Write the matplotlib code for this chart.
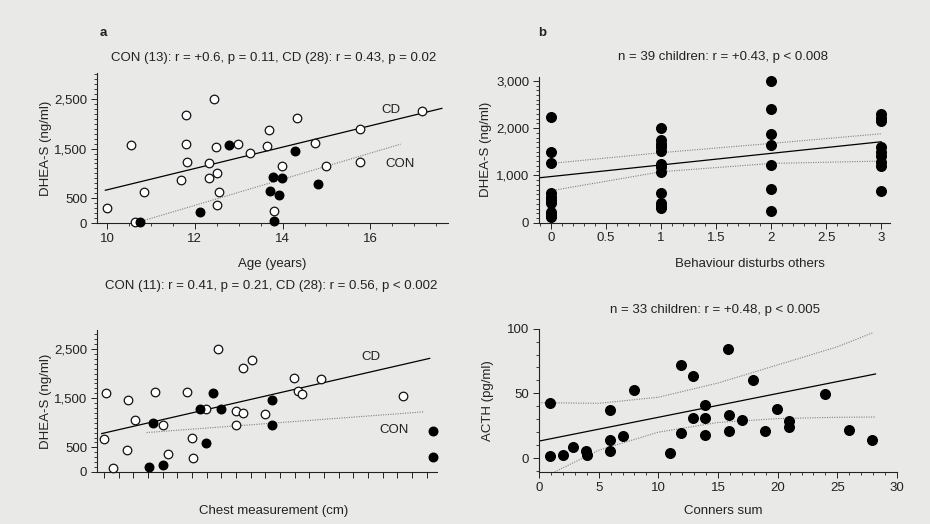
"""
Four scatter panels: hormone levels vs age, behaviour, chest and Conners sum
"""
import matplotlib
matplotlib.use("Agg")
import matplotlib.pyplot as plt
from matplotlib.ticker import FixedLocator, MultipleLocator
import numpy as np

plt.rcParams['font.family'] = ['Liberation Sans', 'DejaVu Sans']

"""
Panel a: age (years) vs DHEA-S, CD open circles, CON filled
"""
age_cd = [10.0, 10.54, 10.63, 10.83, 11.69, 11.79, 11.79, 11.82, 12.32, 12.33, 12.43, 12.48, 12.50,
          12.50, 12.54, 12.98, 13.25, 13.65, 13.68, 13.80, 13.98, 14.32, 14.74, 15.0, 15.77, 15.77, 17.18]
dhea_age_cd = [310, 1563, 20, 627, 876, 2177, 1590, 1233, 917, 1200, 2507, 1523, 1011,
               357, 627, 1597, 1402, 1550, 1867, 243, 1159, 2109, 1604, 1152, 1887, 1233, 2264]
age_con = [10.75, 12.11, 12.77, 13.71, 13.78, 13.92, 13.98, 13.80, 14.29, 14.8]
dhea_age_con = [27, 216, 1563, 647, 930, 559, 917, 40, 1456, 782]
fit_age_cd_x = [9.96, 17.63]
fit_age_cd_y = [660, 2311]
fit_age_con_x = [10.75, 16.69]
fit_age_con_y = [27, 1590]

"""
Panel b: behaviour disturbs others score vs DHEA-S
"""
behav = [0] * 10 + [1] * 12 + [2] * 7 + [3] * 9
dhea_behav = [2240, 1500, 1270, 620, 540, 470, 420, 230, 170, 130,
              2000, 1750, 1660, 1590, 1520, 1250, 1180, 1080, 630, 410, 350, 320,
              3000, 2400, 1880, 1640, 1230, 720, 240,
              2300, 2220, 2150, 1600, 1500, 1400, 1290, 1200, 680]
fit_behav_x = [-0.1, 3.0]
fit_behav_y = [951, 1711]
ci_behav_x = [0, 1, 2, 3]
ci_behav_upper = [1253, 1480, 1676, 1880]
ci_behav_lower = [676, 1077, 1253, 1303]

"""
Panel c: chest measurement (cm) vs DHEA-S (axis printed without numbers)
"""
chest_cd = [60.0, 60.14, 60.59, 61.55, 61.6, 62.1, 63.5, 64.05, 64.34, 65.64, 66.0, 66.05, 66.93,
            67.77, 69.0, 69.0, 69.5, 69.5, 70.07, 71.0, 72.95, 73.25, 73.48, 74.77, 80.36]
dhea_chest_cd = [679, 1610, 82, 442, 1460, 1066, 1630, 965, 374, 1630, 693, 285, 1291,
                 2500, 951, 1243, 1209, 2119, 2269, 1189, 1916, 1644, 1576, 1882, 1542]
chest_con = [63.07, 63.32, 64.05, 66.55, 66.95, 67.45, 67.95, 71.43, 71.43, 82.45, 82.45]
dhea_chest_con = [109, 999, 136, 1284, 598, 1610, 1291, 1467, 965, 829, 299]
fit_chest_cd_x = [59.84, 82.2]
fit_chest_cd_y = [781, 2310]
fit_chest_con_x = [62.9, 81.8]
fit_chest_con_y = [802, 1223]

"""
Panel d: Conners sum vs ACTH
"""
conners = [0.92, 0.92, 1.98, 2.87, 3.94, 3.99, 5.94, 5.94, 5.94, 7.0, 7.95, 10.97, 11.86, 11.86,
           12.92, 12.92, 13.93, 13.93, 13.93, 15.85, 15.94, 15.94, 16.97, 17.95, 18.92, 19.95,
           20.96, 20.96, 23.95, 25.98, 27.94]
acth = [1.5, 42.3, 2, 8.5, 5.2, 2, 36.9, 13.7, 5.2, 16.8, 52.8, 4.1, 71.6, 19.6,
        63.4, 30.9, 41.2, 30.9, 18, 84.5, 33, 21.1, 29.1, 60.6, 21.1, 38.1,
        28.4, 24.2, 49.2, 21.4, 13.7]
fit_conners_x = [0, 28.2]
fit_conners_y = [13.1, 65]
ci_upper_x = [0, 5, 10, 15, 20, 25, 28]
ci_upper_y = [42.8, 42.3, 47, 58, 72, 86, 97]
ci_lower_x = [1.3, 5, 10, 15, 20, 25, 28.2]
ci_lower_y = [-10.8, 6, 20, 27.5, 30.5, 31.5, 31.7]

titles = ["CON (13): r = +0.6, p = 0.11, CD (28): r = 0.43, p = 0.02",
          "n = 39 children: r = +0.43, p < 0.008",
          "CON (11): r = 0.41, p = 0.21, CD (28): r = 0.56, p < 0.002",
          "n = 33 children: r = +0.48, p < 0.005"]

W, H = 930, 524
FS = 9.5
bg = "#e9e9e8"
fig = plt.figure(figsize=(W / 100, H / 100), dpi=100, facecolor=bg)


def add_axes(left, top, right, bottom):
    ax = fig.add_axes([left / W, 1 - bottom / H, (right - left) / W, (bottom - top) / H])
    ax.set_facecolor("none")
    for s in ["top", "right"]:
        ax.spines[s].set_visible(False)
    for s in ["left", "bottom"]:
        ax.spines[s].set_linewidth(0.8)
        ax.spines[s].set_color("#222222")
    ax.tick_params(which="major", direction="out", length=4, width=0.7, labelsize=FS, pad=3,
                   color="#222222", labelcolor="#222222")
    ax.tick_params(which="minor", direction="out", length=2.5, width=0.6, color="#222222")
    return ax


def fig_text(x, y, s, **kw):
    fig.text(x / W, 1 - y / H, s, ha="center", va="center", fontsize=FS, color="#222222", **kw)


open_kw = dict(s=38, facecolors="white", edgecolors="#111111", linewidths=0.9, zorder=3, clip_on=False)
fill_kw = dict(s=38, color="black", zorder=4, clip_on=False)
dot_kw = dict(color="#808080", linestyle=(0, (1, 1.2)), linewidth=0.8)
lab_kw = dict(fontsize=FS, color="#222222")

"""
Panel a
"""
ax = add_axes(97, 73, 448, 223)
ax.set_xlim(9.77, 17.77)
ax.set_ylim(0, 3024)
ax.plot(fit_age_cd_x, fit_age_cd_y, color="black", linewidth=0.9)
ax.plot(fit_age_con_x, fit_age_con_y, **dot_kw)
ax.scatter(age_cd, dhea_age_cd, **open_kw)
ax.scatter(age_con, dhea_age_con, **fill_kw)
ax.xaxis.set_major_locator(FixedLocator([10, 12, 14, 16]))
ax.xaxis.set_minor_locator(MultipleLocator(0.5))
ax.yaxis.set_major_locator(FixedLocator([0, 500, 1500, 2500]))
ax.set_yticklabels(["0", "500", "1,500", "2,500"])
ax.yaxis.set_minor_locator(MultipleLocator(100))
ax.text(16.26, 2278, "CD", va="center", **lab_kw)
ax.text(16.34, 1186, "CON", va="center", **lab_kw)
ax.set_ylabel("DHEA-S (ng/ml)", **lab_kw)
ax.yaxis.set_label_coords(-0.128, 0.5)
ax.set_xlabel("Age (years)", **lab_kw)
ax.xaxis.set_label_coords(0.5, -0.23)
fig_text(274, 58, titles[0])
fig_text(103, 33, "a", fontweight="bold")

"""
Panel b
"""
ax = add_axes(539, 77, 890, 222.7)
ax.set_xlim(-0.109, 3.08)
ax.set_ylim(0, 3080)
ax.plot(fit_behav_x, fit_behav_y, color="black", linewidth=0.9)
ax.plot(ci_behav_x, ci_behav_upper, **dot_kw)
ax.plot(ci_behav_x, ci_behav_lower, **dot_kw)
ax.scatter(behav, dhea_behav, s=48, color="black", zorder=4, clip_on=False)
ax.xaxis.set_major_locator(FixedLocator([0, 0.5, 1, 1.5, 2, 2.5, 3]))
ax.set_xticklabels(["0", "0.5", "1", "1.5", "2", "2.5", "3"])
ax.xaxis.set_minor_locator(MultipleLocator(0.1))
ax.yaxis.set_major_locator(FixedLocator([0, 1000, 2000, 3000]))
ax.set_yticklabels(["0", "1,000", "2,000", "3,000"])
ax.yaxis.set_minor_locator(MultipleLocator(100))
ax.set_ylabel("DHEA-S (ng/ml)", **lab_kw)
ax.yaxis.set_label_coords(-0.135, 0.5)
ax.set_xlabel("Behaviour disturbs others", **lab_kw)
ax.xaxis.set_label_coords(0.6, -0.24)
fig_text(723, 57, titles[1])
fig_text(542, 33, "b", fontweight="bold")

"""
Panel c
"""
ax = add_axes(97, 330, 437, 472)
ax.set_xlim(59.52, 82.7)
ax.set_ylim(0, 2887)
ax.plot(fit_chest_cd_x, fit_chest_cd_y, color="black", linewidth=0.9)
ax.plot(fit_chest_con_x, fit_chest_con_y, **dot_kw)
ax.scatter(chest_cd, dhea_chest_cd, **open_kw)
ax.scatter(chest_con, dhea_chest_con, **fill_kw)
ax.xaxis.set_major_locator(MultipleLocator(1))
ax.set_xticklabels([])
ax.yaxis.set_major_locator(FixedLocator([0, 500, 1500, 2500]))
ax.set_yticklabels(["0", "500", "1,500", "2,500"])
ax.yaxis.set_minor_locator(MultipleLocator(100))
ax.text(77.57, 2344, "CD", va="center", **lab_kw)
ax.text(78.8, 849, "CON", va="center", **lab_kw)
ax.set_ylabel("DHEA-S (ng/ml)", **lab_kw)
ax.yaxis.set_label_coords(-0.132, 0.5)
ax.set_xlabel("Chest measurement (cm)", **lab_kw)
ax.xaxis.set_label_coords(0.52, -0.232)
fig_text(271, 286, titles[2])

"""
Panel d
"""
ax = add_axes(539, 328.7, 897, 472)
ax.set_xlim(0, 30)
ax.set_ylim(-10.8, 100)
ax.plot(fit_conners_x, fit_conners_y, color="black", linewidth=0.9)
ax.plot(ci_upper_x, ci_upper_y, **dot_kw)
ax.plot(ci_lower_x, ci_lower_y, **dot_kw)
ax.scatter(conners, acth, s=48, color="black", zorder=4, clip_on=False)
ax.xaxis.set_major_locator(MultipleLocator(5))
ax.xaxis.set_minor_locator(MultipleLocator(1))
ax.yaxis.set_major_locator(FixedLocator([0, 50, 100]))
ax.yaxis.set_minor_locator(FixedLocator(np.arange(-10, 101, 10)))
ax.set_ylabel("ACTH (pg/ml)", **lab_kw)
ax.yaxis.set_label_coords(-0.125, 0.5)
ax.set_xlabel("Conners sum", **lab_kw)
ax.xaxis.set_label_coords(0.514, -0.23)
fig_text(715, 310, titles[3])

plt.savefig("out.png", dpi=100, facecolor=bg)
